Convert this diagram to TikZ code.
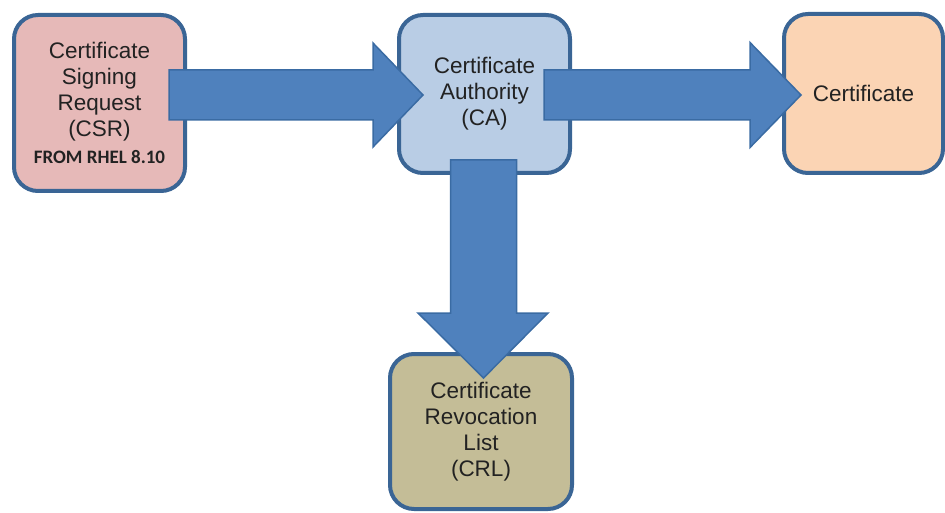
\documentclass[tikz,border=0pt]{standalone}
\usepackage{fontspec}
\setmainfont{Liberation Sans}
\newfontfamily\calfont{Carlito}
\usetikzlibrary{calc}
\definecolor{boxline}{HTML}{3A6595}
\definecolor{csrfill}{HTML}{E6B9B8}
\definecolor{cafill}{HTML}{B9CDE5}
\definecolor{certfill}{HTML}{FBD4B4}
\definecolor{crlfill}{HTML}{C4BD97}
\definecolor{arrfill}{HTML}{4F81BD}
\definecolor{arrline}{HTML}{3A6BA3}
\definecolor{txt}{HTML}{222222}
\tikzset{
  roundbox/.style={draw=boxline, line width=4pt, rounded corners=24pt,
    align=center, text=txt, inner sep=0pt,
    font=\fontsize{22.5}{26}\selectfont},
  blockarrow/.style={fill=arrfill, draw=arrline, line width=1.5pt, line join=miter}
}
\begin{document}
\begin{tikzpicture}[x=1pt,y=-1pt]
\useasboundingbox (0,0) rectangle (945,513);
\node[roundbox, fill=csrfill, minimum width=171pt, minimum height=176pt] (csr) at (99.5,103)
  {Certificate\\Signing\\Request\\(CSR)\\[1pt]{\calfont\bfseries\fontsize{19}{20}\selectfont FROM RHEL 8.10}};
\node[roundbox, fill=cafill, minimum width=171pt, minimum height=158pt] (ca) at (484.5,94)
  {Certificate\\Authority\\(CA)};
\node[roundbox, fill=certfill, minimum width=159pt, minimum height=159pt] (cert) at (863.5,93.5)
  {Certificate};
\node[roundbox, fill=crlfill, minimum width=182pt, minimum height=155pt] (crl) at (481,431.5)
  {Certificate\\Revocation\\List\\(CRL)};
% arrow CSR -> CA
\coordinate (aone) at ($(csr.east |- ca.west)+(-18,1)$);
\draw[blockarrow]
  ($(aone)+(0,-25)$) -- ($(ca.west)+(-24,-24)$) -- ($(ca.west)+(-24,-51)$)
  -- ($(ca.west)+(26,1)$) -- ($(ca.west)+(-24,53)$) -- ($(ca.west)+(-24,26)$)
  -- ($(aone)+(0,25)$) -- cycle;
% arrow CA -> Certificate
\draw[blockarrow]
  ($(ca.east)+(-28,-24)$) -- ($(cert.west)+(-32,-23.5)$) -- ($(cert.west)+(-32,-51)$)
  -- ($(cert.west)+(19,1.5)$) -- ($(cert.west)+(-32,54)$) -- ($(cert.west)+(-32,26.5)$)
  -- ($(ca.east)+(-28,26)$) -- cycle;
% arrow CA -> CRL
\coordinate (dtop) at ($(ca.south)+(-1,-15)$);
\coordinate (dbase) at ($(dtop |- crl.north)+(0,-39)$);
\draw[blockarrow]
  ($(dtop)+(-33,0)$) -- ($(dtop)+(33,0)$) -- ($(dbase)+(33,0)$)
  -- ($(dbase)+(64.5,0)$) -- ($(dbase)+(0,65)$) -- ($(dbase)+(-65.5,0)$)
  -- ($(dbase)+(-33,0)$) -- cycle;
\end{tikzpicture}
\end{document}
